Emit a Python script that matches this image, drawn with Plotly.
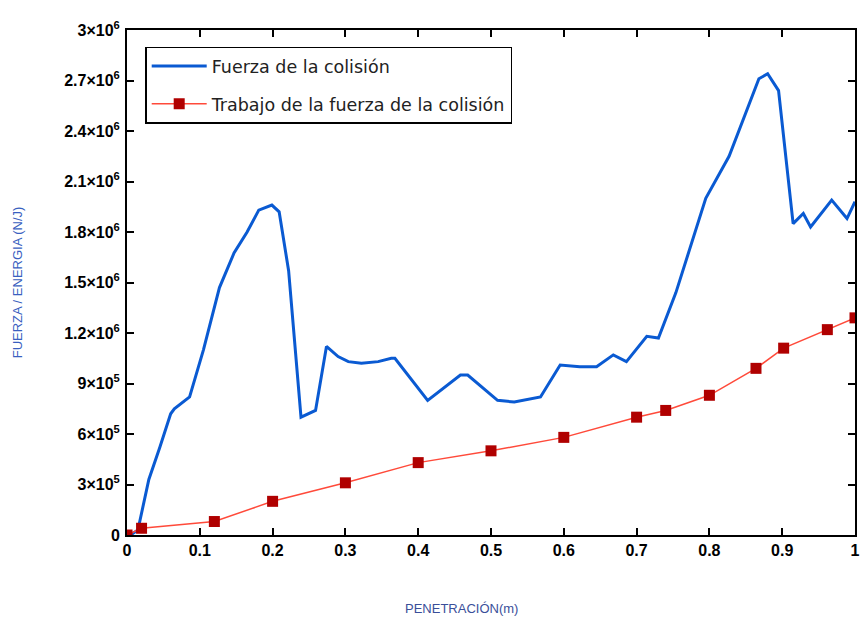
import plotly.graph_objects as go

# Collision force vs. penetration
pen_force = [0.0, 0.005, 0.015, 0.03, 0.045, 0.06, 0.065, 0.086, 0.105, 0.127, 0.147,
             0.165, 0.181, 0.199, 0.209, 0.222, 0.239, 0.259, 0.274, 0.29, 0.304,
             0.322, 0.345, 0.363, 0.368, 0.413, 0.458, 0.468, 0.509, 0.532, 0.568,
             0.595, 0.622, 0.645, 0.668, 0.686, 0.714, 0.73, 0.754, 0.795, 0.827,
             0.868, 0.88, 0.895, 0.915, 0.929, 0.939, 0.968, 0.989, 1.0]
force = [0, 0, 30e3, 330e3, 520e3, 720e3, 750e3, 820e3, 1.10e6, 1.47e6, 1.675e6,
         1.80e6, 1.93e6, 1.96e6, 1.92e6, 1.57e6, 0.70e6, 0.74e6, 1.12e6, 1.06e6, 1.03e6,
         1.02e6, 1.03e6, 1.05e6, 1.05e6, 0.80e6, 0.95e6, 0.95e6, 0.80e6, 0.79e6, 0.82e6,
         1.01e6, 1.00e6, 1.00e6, 1.07e6, 1.03e6, 1.18e6, 1.17e6, 1.44e6, 2.00e6, 2.25e6,
         2.71e6, 2.74e6, 2.64e6, 1.85e6, 1.91e6, 1.83e6, 1.99e6, 1.88e6, 1.98e6]

# Work done by the collision force
pen_work = [0.0, 0.02, 0.12, 0.2, 0.3, 0.4, 0.5, 0.6, 0.7, 0.74, 0.8, 0.864, 0.902, 0.962, 1.0]
work = [0, 0.04e6, 0.08e6, 0.20e6, 0.31e6, 0.43e6, 0.50e6, 0.58e6, 0.70e6, 0.74e6,
        0.83e6, 0.99e6, 1.11e6, 1.22e6, 1.29e6]

x_ticks = [0, 0.1, 0.2, 0.3, 0.4, 0.5, 0.6, 0.7, 0.8, 0.9, 1]
x_ticklabels = ["0", "0.1", "0.2", "0.3", "0.4", "0.5", "0.6", "0.7", "0.8", "0.9", "1"]
y_ticks = [0, 3e5, 6e5, 9e5, 1.2e6, 1.5e6, 1.8e6, 2.1e6, 2.4e6, 2.7e6, 3e6]
y_ticklabels = ["0", "3×10<sup>5</sup>", "6×10<sup>5</sup>", "9×10<sup>5</sup>",
                "1.2×10<sup>6</sup>", "1.5×10<sup>6</sup>", "1.8×10<sup>6</sup>",
                "2.1×10<sup>6</sup>", "2.4×10<sup>6</sup>", "2.7×10<sup>6</sup>",
                "3×10<sup>6</sup>"]

fig = go.Figure()
fig.add_trace(go.Scatter(
    x=pen_force, y=force, mode="lines", name="Fuerza de la colisión",
    legendgroup="fuerza",
    line=dict(color="#0a5ad2", width=3),
))
fig.add_trace(go.Scatter(
    x=pen_work, y=work, mode="lines+markers", name="Trabajo de la fuerza de la colisión",
    legendgroup="trabajo",
    line=dict(color="#ff4a3a", width=1.5),
    marker=dict(symbol="square", size=11, color="#b00000"),
))

axis_common = dict(
    showline=True, linecolor="black", linewidth=2, mirror="ticks",
    ticks="inside", ticklen=7, tickwidth=1.5, tickcolor="black",
    showgrid=False, zeroline=False,
    tickfont=dict(family="Liberation Sans, Arial, sans-serif", size=16,
                  color="black", weight="bold"),
)

fig.update_xaxes(range=[0, 1], tickvals=x_ticks, ticktext=x_ticklabels, **axis_common)
fig.update_yaxes(range=[0, 3e6], tickvals=y_ticks, ticktext=y_ticklabels, ticklabelstandoff=2,
                 **axis_common)

fig.add_annotation(
    text="PENETRACIÓN(m)", xref="paper", yref="paper", x=0.46, y=-0.145,
    showarrow=False, xanchor="center", yanchor="middle",
    font=dict(family="Liberation Sans, Arial, sans-serif", size=13, color="#3a4f9a"),
)
fig.add_annotation(
    text="FUERZA / ENERGIA (N/J)", xref="paper", yref="paper", x=-0.15, y=0.5,
    showarrow=False, textangle=-90, xanchor="center", yanchor="middle",
    font=dict(family="Liberation Sans, Arial, sans-serif", size=13, color="#3a5fc0"),
)

fig.update_layout(
    width=865, height=620,
    margin=dict(l=127, r=5, t=30, b=85),
    paper_bgcolor="white", plot_bgcolor="white",
    showlegend=True,
    legend=dict(
        x=0.025, y=0.967, xanchor="left", yanchor="top",
        bgcolor="white", bordercolor="black", borderwidth=1.5,
        itemwidth=55, tracegroupgap=12,
        font=dict(family="DejaVu Sans, sans-serif", size=17.5, color="#222"),
    ),
)

fig.write_html("out.html")
